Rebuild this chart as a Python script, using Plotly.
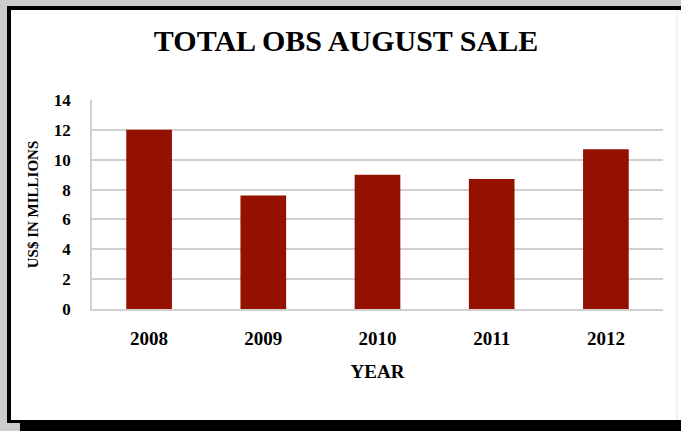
import plotly.graph_objects as go

years = ["2008", "2009", "2010", "2011", "2012"]
sales = [12.0, 7.6, 9.0, 8.7, 10.7]
y_ticks = [0, 2, 4, 6, 8, 10, 12, 14]

W, H = 681, 431
L, R, T, B = 92, 18, 100, 122
PW, PH = W - L - R, H - T - B

def px(x):
    return (x - L) / PW

def py(y):
    return (H - B - y) / PH

font_fam = "Liberation Serif, Times New Roman, serif"

fig = go.Figure()
fig.add_trace(go.Bar(
    x=years, y=sales,
    marker=dict(color="#941100", line=dict(width=0)),
    hoverinfo="x+y",
))

shapes = [
    dict(type="rect", xref="paper", yref="paper", x0=px(7), x1=px(690), y0=py(6), y1=py(423),
         fillcolor="black", line=dict(width=0), layer="below"),
    dict(type="rect", xref="paper", yref="paper", x0=px(20), x1=px(690), y0=py(420), y1=py(440),
         fillcolor="black", line=dict(width=0), layer="below"),
    dict(type="rect", xref="paper", yref="paper", x0=px(11), x1=px(690), y0=py(10), y1=py(420),
         fillcolor="white", line=dict(width=0), layer="below"),
    dict(type="line", xref="paper", yref="paper", x0=px(677), x1=px(677), y0=py(10), y1=py(420),
         line=dict(color="#e6e6e6", width=1), layer="below"),
]

fig.update_layout(
    width=W, height=H,
    margin=dict(l=L, r=R, t=T, b=B),
    paper_bgcolor="#cccccc",
    plot_bgcolor="white",
    showlegend=False,
    bargap=0.6,
    shapes=shapes,
    title=dict(text="TOTAL OBS AUGUST SALE", x=346 / W, xanchor="center",
               y=1 - 40 / H, yanchor="middle",
               font=dict(family=font_fam, size=30, color="black", weight="bold")),
    xaxis=dict(
        showgrid=False, showline=True, linecolor="#d0d0d0", linewidth=1.5,
        ticks="", ticklabelstandoff=11,
        tickfont=dict(family=font_fam, size=19, color="black", weight="bold"),
        title=dict(text="YEAR", standoff=17,
                   font=dict(family=font_fam, size=19, color="black", weight="bold")),
    ),
    yaxis=dict(
        range=[0, 14], tickvals=y_ticks, showgrid=True, gridcolor="#d0d0d0", gridwidth=1.5,
        showline=True, linecolor="#d0d0d0", linewidth=1.5, zeroline=False,
        ticks="", ticklabelstandoff=16,
        tickfont=dict(family=font_fam, size=17, color="black", weight="bold"),
        title=dict(text="US$ IN MILLIONS", standoff=12,
                   font=dict(family=font_fam, size=15, color="black", weight="bold")),
    ),
)

fig.write_html("out.html", config={"displayModeBar": False},
               post_script="document.body.style.margin='0';")
